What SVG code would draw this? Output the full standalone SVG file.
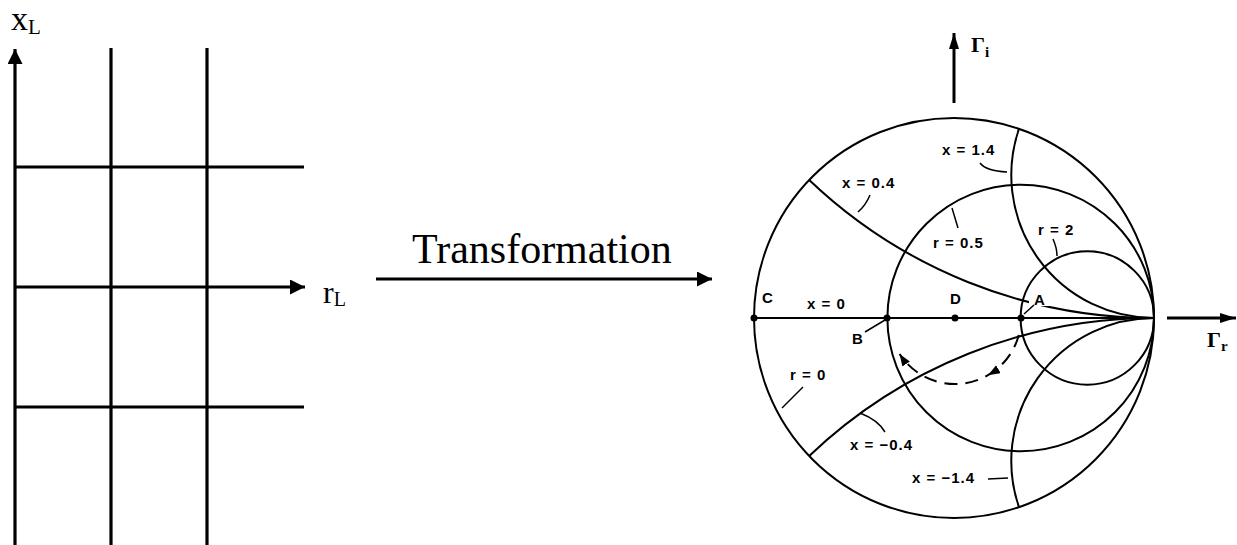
<svg xmlns="http://www.w3.org/2000/svg" width="1237" height="545" viewBox="0 0 1237 545">
<style>
.grid{stroke:#000;stroke-width:3.2;fill:none}
.ax{stroke:#000;stroke-width:3;fill:none}
.sc{stroke:#000;stroke-width:2;fill:none}
.ld{stroke:#000;stroke-width:1.5;fill:none}
.serif{font-family:"Liberation Serif","Times New Roman",serif;fill:#000}
.lbl{font-family:"Liberation Sans",Arial,sans-serif;font-size:15px;font-weight:bold;letter-spacing:1px;fill:#000}
.dot{fill:#000}
</style>
<defs>
<marker id="ah" markerUnits="userSpaceOnUse" markerWidth="16" markerHeight="16" refX="15" refY="7.5" orient="auto">
<path d="M0,0 L15,7.5 L0,15 Z" fill="#000"/>
</marker>
<marker id="ahs" markerUnits="userSpaceOnUse" markerWidth="18" markerHeight="12" refX="16" refY="5" orient="auto">
<path d="M0,0 L16,5 L0,10 Z" fill="#000"/>
</marker>
<marker id="ahd" markerUnits="userSpaceOnUse" markerWidth="14" markerHeight="12" refX="12" refY="4.5" orient="auto">
<path d="M0,0 L12,4.5 L0,9 Z" fill="#000"/>
</marker>
</defs>
<rect width="1237" height="545" fill="#fff"/>

<g id="rectangular-grid">
<line class="grid" x1="111" y1="48" x2="111" y2="545"/>
<line class="grid" x1="207" y1="48" x2="207" y2="545"/>
<line class="grid" x1="15" y1="167" x2="304" y2="167"/>
<line class="grid" x1="15" y1="407" x2="304" y2="407"/>
</g>

<g id="connectors">
<line class="grid" x1="15" y1="545" x2="15" y2="49" marker-end="url(#ah)"/>
<line class="grid" x1="15" y1="287" x2="305" y2="287" marker-end="url(#ah)"/>
<line class="ax" x1="376" y1="279" x2="712" y2="279" marker-end="url(#ah)"/>
<line class="ax" x1="954" y1="103" x2="954" y2="33" marker-end="url(#ahs)"/>
<line class="ax" x1="1167" y1="318" x2="1236" y2="318" marker-end="url(#ahs)"/>
</g>

<g id="axis-labels">
<text class="serif" x="11" y="30" font-size="34">x<tspan font-size="21" dy="4">L</tspan></text>
<text class="serif" x="323" y="303" font-size="32">r<tspan font-size="20" dy="3">L</tspan></text>
<text id="transformation-label" class="serif" x="412" y="263" font-size="42">Transformation</text>
</g>

<g id="smith-chart">
<circle class="sc" cx="954" cy="318" r="200"/>
<line class="sc" x1="754" y1="318" x2="1154" y2="318"/>
<circle class="sc" cx="1020.7" cy="318" r="133.3"/>
<circle class="sc" cx="1087.3" cy="318" r="66.7"/>
<path class="sc" d="M809.2,180 A500,500 0 0 0 1154,318"/>
<path class="sc" d="M809.2,456 A500,500 0 0 1 1154,318"/>
<path class="sc" d="M1019,128.8 A142.9,142.9 0 0 0 1154,318"/>
<path class="sc" d="M1019,507.2 A142.9,142.9 0 0 1 1154,318"/>
<rect x="1029" y="290" width="22" height="16" fill="#fff"/>
</g>

<g id="points">
<circle class="dot" cx="754" cy="318" r="3.5"/>
<circle class="dot" cx="887" cy="318" r="3.5"/>
<circle class="dot" cx="955" cy="318" r="3.5"/>
<circle class="dot" cx="1021" cy="318" r="3.5"/>
</g>

<g id="leaders">
<path class="ld" d="M980,163 Q986,171 1007,172"/>
<path class="ld" d="M870,195 Q866,205 858,212"/>
<path class="ld" d="M958,228 L952,208"/>
<path class="ld" d="M1053,239 Q1057,248 1057,256"/>
<path class="ld" d="M1034,305 L1024,314"/>
<path class="ld" d="M865,332 L885,320"/>
<path class="ld" d="M803,387 L782,408"/>
<path class="ld" d="M885,432 Q878,420 860,413"/>
<path class="ld" d="M988,479 L1008,478"/>
</g>

<g id="dashed-path">
<path class="sc" stroke-width="2.5" stroke-dasharray="13 8" d="M1018.8,335 A66,66 0 0 1 988,375.2 A66,66 0 0 1 899.6,354" marker-mid="url(#ahd)" marker-end="url(#ahd)"/>
</g>

<g id="chart-labels">
<text class="serif" x="971" y="52" font-size="22" font-weight="bold">Γ<tspan font-size="15" dy="5">i</tspan></text>
<text class="serif" x="1207" y="347" font-size="22" font-weight="bold">Γ<tspan font-size="15" dy="4">r</tspan></text>
<text class="lbl" x="942" y="155">x = 1.4</text>
<text class="lbl" x="842" y="188">x = 0.4</text>
<text class="lbl" x="933" y="248">r = 0.5</text>
<text class="lbl" x="1038" y="235">r = 2</text>
<text class="lbl" x="762" y="303">C</text>
<text class="lbl" x="807" y="309">x = 0</text>
<text class="lbl" x="950" y="304">D</text>
<text class="lbl" x="1034" y="305">A</text>
<text class="lbl" x="852" y="344">B</text>
<text class="lbl" x="790" y="380">r = 0</text>
<text class="lbl" x="850" y="450">x = −0.4</text>
<text class="lbl" x="912" y="483">x = −1.4</text>
</g>
</svg>
